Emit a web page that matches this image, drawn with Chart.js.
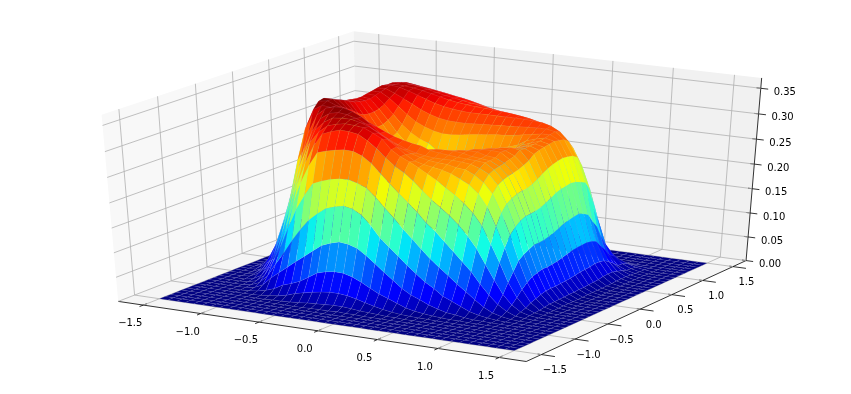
<!DOCTYPE html>
<html lang="en">
<head>
    <meta charset="UTF-8">
    <title>Surface</title>
    <script src="https://cdn.jsdelivr.net/npm/chart.js"></script>
    <style>
        html, body { margin: 0; padding: 0; background: #fff; }
        canvas { display: block; }
    </style>
</head>
<body>
    <canvas id="surfaceChart" width="851" height="394"></canvas>

    <script>
        // Grid positions of the surface, x and y share the same values
        const gridValues = [-1.5, -1.425, -1.35, -1.275, -1.2, -1.125, -1.05, -0.975, -0.9, -0.825, -0.75, -0.675, -0.6, -0.525, -0.45, -0.375, -0.3, -0.225, -0.15, -0.075, 0, 0.075, 0.15, 0.225, 0.3, 0.375, 0.45, 0.525, 0.6, 0.675, 0.75, 0.825, 0.9, 0.975, 1.05, 1.125, 1.2, 1.275, 1.35, 1.425, 1.5];

        // Ticks
        const xTicks = [-1.5, -1.0, -0.5, 0.0, 0.5, 1.0, 1.5];
        const yTicks = [-1.5, -1.0, -0.5, 0.0, 0.5, 1.0, 1.5];
        const zTicks = [0.00, 0.05, 0.10, 0.15, 0.20, 0.25, 0.30, 0.35];
        const xTickLabels = ['\u22121.5', '\u22121.0', '\u22120.5', '0.0', '0.5', '1.0', '1.5'];
        const yTickLabels = ['\u22121.5', '\u22121.0', '\u22120.5', '0.0', '0.5', '1.0', '1.5'];
        const zTickLabels = ['0.00', '0.05', '0.10', '0.15', '0.20', '0.25', '0.30', '0.35'];

        // Surface height in thousandths, one row per y (first row is y = -1.5)
        const zThousandths = [
            [0,0,0,0,0,0,0,0,0,0,0,0,0,0,0,0,0,0,0,0,0,0,0,0,0,0,0,0,0,0,0,0,0,0,0,0,0,0,0,0,0],
            [0,0,0,0,0,0,0,0,0,0,0,0,0,0,0,0,0,0,0,0,0,0,0,0,0,0,0,0,0,0,0,0,0,0,0,0,0,0,0,0,0],
            [0,0,0,0,0,0,0,0,0,0,0,0,0,0,0,0,0,0,0,0,0,0,0,0,0,0,0,0,0,0,0,0,0,0,0,0,0,0,0,0,0],
            [0,0,0,0,0,0,0,0,0,0,0,0,0,0,0,0,0,0,0,0,0,0,0,0,0,0,0,0,0,0,0,0,0,0,0,0,0,0,0,0,0],
            [0,0,0,0,0,0,0,0,0,0,0,0,0,0,0,1,1,1,2,1,1,0,0,0,0,0,0,0,0,0,0,0,0,0,0,0,0,0,0,0,0],
            [0,0,0,0,0,0,0,0,0,0,1,1,2,3,5,6,7,8,8,6,4,3,2,1,1,0,0,0,0,0,0,0,0,0,0,0,0,0,0,0,0],
            [0,0,0,0,0,0,0,0,1,3,5,9,15,19,23,26,28,28,26,22,17,12,8,5,3,2,1,1,0,0,0,0,0,0,0,0,0,0,0,0,0],
            [0,0,0,0,0,0,1,3,7,13,23,29,36,47,58,63,66,65,60,52,42,33,26,19,12,8,5,3,2,1,1,0,0,0,0,0,0,0,0,0,0],
            [0,0,0,0,0,1,3,11,28,42,56,70,83,97,110,117,122,120,114,102,88,73,59,45,34,27,19,13,8,6,3,1,1,0,0,0,0,0,0,0,0],
            [0,0,0,0,0,2,9,26,53,78,106,130,152,167,180,186,190,186,176,158,136,120,104,88,73,59,48,35,27,19,11,6,3,1,0,0,0,0,0,0,0],
            [0,0,0,0,1,6,20,48,83,125,165,195,221,228,234,237,238,233,226,210,191,174,154,137,119,102,87,73,58,45,31,18,9,4,1,0,0,0,0,0,0],
            [0,0,0,0,3,13,36,70,112,165,214,250,278,283,287,290,289,282,270,252,235,218,202,186,167,153,135,117,99,81,59,39,22,10,3,1,0,0,0,0,0],
            [0,0,0,2,10,26,56,102,154,205,250,285,310,317,322,321,318,308,295,279,265,255,241,224,209,196,182,166,147,124,94,65,38,19,7,2,0,0,0,0,0],
            [0,0,0,4,17,42,90,138,190,240,286,308,322,327,330,329,327,319,310,291,280,272,263,253,243,230,219,205,188,165,131,96,58,30,11,3,1,0,0,0,0],
            [0,0,0,8,32,65,116,172,228,270,306,323,333,335,335,331,325,315,305,293,280,270,265,262,259,254,246,237,222,198,162,122,76,42,17,4,1,0,0,0,0],
            [0,0,3,14,41,85,145,205,259,297,324,336,340,338,333,325,315,305,295,285,278,273,269,267,266,262,260,252,240,220,185,143,94,52,21,6,1,0,0,0,0],
            [0,0,7,22,60,110,175,235,290,325,340,345,345,340,332,320,305,295,287,280,275,272,270,270,270,269,267,261,252,233,198,155,102,59,25,8,2,0,0,0,0],
            [0,0,12,35,80,150,225,290,330,340,338,336,334,328,320,312,304,297,292,288,285,278,276,274,272,271,270,268,257,239,205,163,108,63,28,8,2,0,0,0,0],
            [0,0,14,40,90,160,240,305,342,345,338,330,322,310,296,280,270,264,262,264,274,277,278,278,276,272,270,268,259,243,210,168,113,66,29,9,2,0,0,0,0],
            [0,0,15,40,90,165,250,315,345,345,332,318,302,285,270,256,246,240,240,244,252,261,272,276,277,277,272,270,262,245,212,169,113,66,29,9,2,0,0,0,0],
            [0,0,15,40,90,165,250,315,340,340,325,302,280,262,248,236,228,224,224,228,236,246,257,270,276,278,278,277,265,248,213,170,114,67,30,10,2,0,0,0,0],
            [0,0,14,38,85,160,240,305,335,336,318,294,270,250,235,225,210,205,204,208,216,226,238,252,264,276,278,276,268,252,217,173,117,69,31,10,2,0,0,0,0],
            [0,0,12,35,80,155,230,295,330,330,308,284,260,240,226,216,198,192,191,195,203,214,227,240,252,266,276,278,276,257,223,178,121,72,32,11,3,0,0,0,0],
            [0,0,10,32,75,150,225,290,326,325,302,278,254,234,220,210,192,187,186,190,198,208,220,231,241,260,267,273,275,266,230,184,126,75,34,11,3,0,0,0,0],
            [0,0,9,30,72,145,220,287,324,322,300,276,252,232,218,208,191,187,187,192,199,208,219,229,238,256,264,271,276,270,236,190,131,78,36,12,3,0,0,0,0],
            [0,0,8,28,70,140,215,284,322,320,300,277,254,235,221,212,196,193,194,199,206,214,223,232,240,256,263,270,276,272,240,194,134,80,37,13,3,0,0,0,0],
            [0,0,8,28,70,140,215,283,322,320,302,282,260,243,231,223,208,205,207,212,218,225,232,238,244,252,266,272,278,274,243,196,136,81,38,14,3,1,0,0,0],
            [0,0,9,30,72,145,220,287,324,323,308,290,272,258,248,241,228,226,228,232,237,241,245,249,254,260,271,276,280,276,245,198,138,82,40,16,4,1,0,0,0],
            [0,0,10,32,75,150,225,290,326,326,316,302,288,276,268,262,259,259,261,264,266,268,270,271,273,276,279,282,283,274,244,196,134,80,40,17,5,1,0,0,0],
            [0,0,12,35,80,155,230,292,328,329,322,314,305,296,289,284,281,280,280,281,282,283,284,285,286,287,288,288,285,272,242,192,128,76,38,17,5,1,0,0,0],
            [0,0,14,40,90,165,240,296,330,332,330,325,319,313,307,303,300,298,297,297,297,297,297,297,297,296,295,290,281,264,235,187,110,62,32,14,5,1,0,0,0],
            [0,0,16,44,100,180,255,303,328,330,329,327,324,320,316,312,309,307,305,304,303,302,300,298,295,291,286,278,266,247,215,170,95,50,24,11,4,1,0,0,0],
            [0,0,18,50,110,195,270,312,328,331,329,327,323,319,315,312,309,306,304,301,298,295,291,286,276,268,257,244,228,204,178,135,70,35,15,7,3,1,0,0,0],
            [0,0,20,55,120,205,275,312,325,327,325,322,319,316,313,310,307,303,298,293,288,282,275,267,255,245,230,212,190,165,137,100,50,28,14,6,2,0,0,0,0],
            [0,0,20,55,120,200,262,300,316,319,318,316,313,310,307,304,300,296,291,285,276,264,248,228,200,178,155,135,115,95,75,52,30,18,10,5,2,0,0,0,0],
            [0,0,18,48,105,175,235,270,285,290,292,293,294,295,295,294,290,285,279,270,257,235,205,172,140,110,85,66,50,37,27,19,12,8,4,2,1,0,0,0,0],
            [0,0,12,32,70,115,155,180,190,195,200,205,210,213,215,215,212,205,192,172,145,115,88,64,45,30,20,14,9,6,4,2,1,0,0,0,0,0,0,0,0],
            [0,0,5,12,25,40,55,63,67,70,73,76,78,80,80,78,73,65,53,40,28,19,12,8,5,3,2,1,0,0,0,0,0,0,0,0,0,0,0,0,0],
            [0,0,1,2,4,7,9,11,12,12,13,13,14,14,13,12,10,8,5,3,2,1,0,0,0,0,0,0,0,0,0,0,0,0,0,0,0,0,0,0,0],
            [0,0,0,0,0,0,0,0,1,1,1,1,1,1,1,0,0,0,0,0,0,0,0,0,0,0,0,0,0,0,0,0,0,0,0,0,0,0,0,0,0],
            [0,0,0,0,0,0,0,0,0,0,0,0,0,0,0,0,0,0,0,0,0,0,0,0,0,0,0,0,0,0,0,0,0,0,0,0,0,0,0,0,0]
        ];

        // Axis limits of the 3D box
        const xyLimit = 1.72;
        const zLimit = 0.37;

        // Camera used by the picture: elevation 30, azimuth -60, distance 10
        const viewRight = [0.866, 0.5, 0];
        const viewUp = [-0.25, 0.433, 0.866];
        const viewDir = [0.433, -0.75, 0.5];

        function dot(a, b) {
            return a[0] * b[0] + a[1] * b[1] + a[2] * b[2];
        }

        // data coordinates -> projected plane, the chart's scales do the rest
        function project(x, y, z) {
            const d = [(x + xyLimit) / (2 * xyLimit) - 0.5, (y + xyLimit) / (2 * xyLimit) - 0.5, z / zLimit - 0.5];
            const w = 10 - dot(d, viewDir);
            return { x: dot(d, viewRight) / w, y: dot(d, viewUp) / w, depth: -w };
        }

        function jet(v) {
            const ramp = (pts) => {
                for (let i = 1; i < pts.length; i++) {
                    if (v <= pts[i][0]) {
                        const t = (v - pts[i - 1][0]) / (pts[i][0] - pts[i - 1][0]);
                        return Math.round(255 * (pts[i - 1][1] + t * (pts[i][1] - pts[i - 1][1])));
                    }
                }
                return Math.round(255 * pts[pts.length - 1][1]);
            };
            const r = ramp([[0, 0], [0.35, 0], [0.66, 1], [0.89, 1], [1, 0.5]]);
            const g = ramp([[0, 0], [0.125, 0], [0.375, 1], [0.64, 1], [0.91, 0], [1, 0]]);
            const b = ramp([[0, 0.5], [0.11, 1], [0.34, 1], [0.65, 0], [1, 0]]);
            return `rgb(${r},${g},${b})`;
        }

        function lineSet(points, color) {
            return {
                data: points.map(p => project(p[0], p[1], p[2])),
                showLine: true,
                pointRadius: 0,
                borderColor: color,
                borderWidth: 0.8,
                fill: false
            };
        }

        const L = xyLimit;
        const gridColor = '#b0b0b0';
        const axisColor = '#000000';
        const lineSets = [];

        xTicks.forEach(v => {
            lineSets.push(lineSet([[v, -L, 0], [v, L, 0], [v, L, zLimit]], gridColor));
        });
        yTicks.forEach(v => {
            lineSets.push(lineSet([[L, v, 0], [-L, v, 0], [-L, v, zLimit]], gridColor));
        });
        zTicks.forEach(v => {
            lineSets.push(lineSet([[-L, -L, v], [-L, L, v], [L, L, v]], gridColor));
        });

        // Axis lines and tick marks
        lineSets.push(lineSet([[-L, -L, 0], [L, -L, 0]], axisColor));
        lineSets.push(lineSet([[L, -L, 0], [L, L, 0]], axisColor));
        lineSets.push(lineSet([[L, L, 0], [L, L, zLimit]], axisColor));
        xTicks.forEach(v => {
            lineSets.push(lineSet([[v, -L - 0.05, 0], [v, -L + 0.05, 0]], axisColor));
        });
        yTicks.forEach(v => {
            lineSets.push(lineSet([[L + 0.11, v, 0], [L - 0.03, v, 0]], axisColor));
        });
        zTicks.forEach(v => {
            lineSets.push(lineSet([[L - 0.035, L, v], [L + 0.06, L, v]], axisColor));
        });

        // Back panes, painted first
        const panes = [
            { color: '#f8f8f8', corners: [[-L, -L, 0], [-L, L, 0], [-L, L, zLimit], [-L, -L, zLimit]] },
            { color: '#f1f1f1', corners: [[-L, L, 0], [L, L, 0], [L, L, zLimit], [-L, L, zLimit]] },
            { color: '#f5f5f5', corners: [[-L, -L, 0], [L, -L, 0], [L, L, 0], [-L, L, 0]] }
        ];

        function tracePoly(chart, pts) {
            const ctx = chart.ctx;
            ctx.beginPath();
            pts.forEach((p, i) => {
                const px = chart.scales.x.getPixelForValue(p.x);
                const py = chart.scales.y.getPixelForValue(p.y);
                if (i === 0) ctx.moveTo(px, py); else ctx.lineTo(px, py);
            });
            ctx.closePath();
        }

        const panePlugin = {
            id: 'panes',
            beforeDatasetsDraw(chart) {
                panes.forEach(p => {
                    tracePoly(chart, p.corners.map(c => project(c[0], c[1], c[2])));
                    chart.ctx.fillStyle = p.color;
                    chart.ctx.fill();
                });
            }
        };

        // Surface quads, far ones first so near ones cover them
        const zMax = Math.max(...zThousandths.map(row => Math.max(...row)));
        const surfacePlugin = {
            id: 'surface',
            afterDatasetsDraw(chart) {
                const ctx = chart.ctx;
                const quads = [];
                for (let j = 0; j < gridValues.length - 1; j++) {
                    for (let i = 0; i < gridValues.length - 1; i++) {
                        const corners = [[i, j], [i + 1, j], [i + 1, j + 1], [i, j + 1]];
                        const zs = corners.map(c => zThousandths[c[1]][c[0]]);
                        const pts = corners.map((c, k) => project(gridValues[c[0]], gridValues[c[1]], zs[k] / 1000));
                        const depth = pts.reduce((s, p) => s + p.depth, 0) / 4;
                        const mean = zs.reduce((s, v) => s + v, 0) / 4;
                        quads.push({ pts, depth, color: jet(mean / zMax) });
                    }
                }
                quads.sort((a, b) => a.depth - b.depth);
                quads.forEach(q => {
                    tracePoly(chart, q.pts);
                    ctx.fillStyle = q.color;
                    ctx.fill();
                    // thin light seam between the facets
                    ctx.strokeStyle = 'rgba(190,190,230,0.16)';
                    ctx.lineWidth = 0.5;
                    ctx.stroke();
                });
            }
        };

        const labelPlugin = {
            id: 'tickLabels',
            afterDraw(chart) {
                const ctx = chart.ctx;
                const put = (text, p, dx, dy) => {
                    ctx.fillText(text, chart.scales.x.getPixelForValue(p.x) + dx, chart.scales.y.getPixelForValue(p.y) + dy);
                };
                ctx.font = '10px "DejaVu Sans"';
                ctx.fillStyle = '#000000';
                ctx.textAlign = 'center';
                ctx.textBaseline = 'middle';
                xTicks.forEach((v, i) => put(xTickLabels[i], project(v, -L, 0), -13, 18.5));
                yTicks.forEach((v, i) => put(yTickLabels[i], project(L, v, 0), 13.5, 16));
                zTicks.forEach((v, i) => put(zTickLabels[i], project(L, L, v), 24, 4));
            }
        };

        // Vertices go in as a dataset too, so the scales know about every point
        const surfaceVertices = [];
        gridValues.forEach((y, j) => {
            gridValues.forEach((x, i) => {
                surfaceVertices.push(project(x, y, zThousandths[j][i] / 1000));
            });
        });

        new Chart(document.getElementById('surfaceChart').getContext('2d'), {
            type: 'scatter',
            data: {
                datasets: [...lineSets, { data: surfaceVertices, pointRadius: 0, showLine: false }]
            },
            options: {
                responsive: false,
                animation: false,
                layout: { padding: 0 },
                plugins: { legend: { display: false }, tooltip: { enabled: false } },
                scales: {
                    x: { type: 'linear', display: false, min: -437 / 4710, max: (851 - 437) / 4710 },
                    y: { type: 'linear', display: false, min: (190.7 - 394) / 2130, max: 190.7 / 2130 }
                }
            },
            plugins: [panePlugin, surfacePlugin, labelPlugin]
        });
    </script>
</body>
</html>
